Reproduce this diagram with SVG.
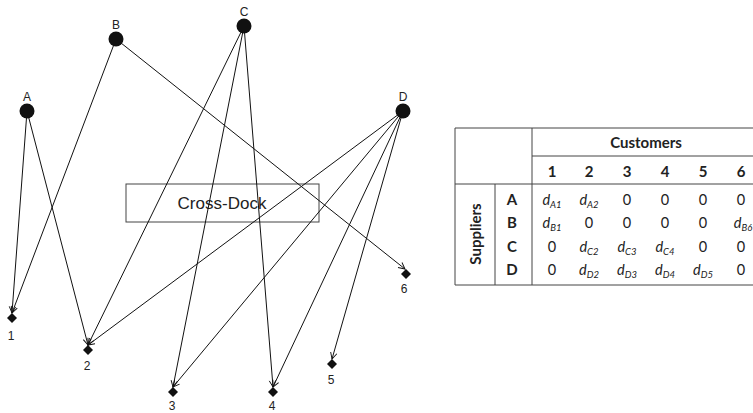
<svg xmlns="http://www.w3.org/2000/svg" width="753" height="413" viewBox="0 0 753 413">
<style>
.lbl{font-family:"Liberation Sans",Arial,sans-serif;font-size:12px;fill:#222;text-anchor:middle}
.edge{stroke:#111;stroke-width:1;fill:none}
.sup{fill:#111}
.cus{fill:#111}
.tl{stroke:#444;stroke-width:1;fill:none}
.th{font-family:Lato,"Open Sans",sans-serif;font-weight:bold;font-size:15px;fill:#222;text-anchor:middle}
.td{font-family:Lato,"Open Sans",sans-serif;font-size:14.5px;fill:#222;text-anchor:middle}
.it{font-style:italic}
.sub{font-style:italic;font-size:9.5px}
</style>
<defs>
<marker id="arr" viewBox="0 0 10 10" refX="9" refY="5" markerWidth="8" markerHeight="8" markerUnits="userSpaceOnUse" orient="auto">
<path d="M1,1 L9,5 L1,9" fill="none" stroke="#111" stroke-width="1.2"/>
</marker>
</defs>
<rect width="753" height="413" fill="#fff"/>

<g id="crossdock">
<rect x="126" y="184" width="193" height="38" fill="none" stroke="#444" stroke-width="1"/>
<text x="222" y="209" font-family="Liberation Sans,Arial,sans-serif" font-size="17" fill="#222" text-anchor="middle">Cross-Dock</text>
</g>

<g id="connectors">
<line class="edge" x1="27" y1="111" x2="12" y2="313" marker-end="url(#arr)"/>
<line class="edge" x1="27" y1="111" x2="88" y2="345" marker-end="url(#arr)"/>
<line class="edge" x1="116" y1="39" x2="12" y2="313" marker-end="url(#arr)"/>
<line class="edge" x1="116" y1="39" x2="405" y2="269" marker-end="url(#arr)"/>
<line class="edge" x1="244" y1="26" x2="88" y2="345" marker-end="url(#arr)"/>
<line class="edge" x1="244" y1="26" x2="173" y2="387" marker-end="url(#arr)"/>
<line class="edge" x1="244" y1="26" x2="273" y2="387" marker-end="url(#arr)"/>
<line class="edge" x1="403" y1="111" x2="88" y2="345" marker-end="url(#arr)"/>
<line class="edge" x1="403" y1="111" x2="173" y2="387" marker-end="url(#arr)"/>
<line class="edge" x1="403" y1="111" x2="273" y2="387" marker-end="url(#arr)"/>
<line class="edge" x1="403" y1="111" x2="332" y2="359" marker-end="url(#arr)"/>
</g>

<g id="A"><circle class="sup" cx="27" cy="111" r="7.5"/><text class="lbl" x="27" y="101">A</text></g>
<g id="B"><circle class="sup" cx="116" cy="39" r="7.5"/><text class="lbl" x="116" y="29">B</text></g>
<g id="C"><circle class="sup" cx="244" cy="26" r="7.5"/><text class="lbl" x="244" y="16">C</text></g>
<g id="D"><circle class="sup" cx="403" cy="111" r="7.5"/><text class="lbl" x="403" y="101">D</text></g>

<g id="c1"><path class="cus" d="M12,313 L17,318 L12,323 L7,318 Z"/><text class="lbl" x="11" y="340">1</text></g>
<g id="c2"><path class="cus" d="M88,345 L93,350 L88,355 L83,350 Z"/><text class="lbl" x="87" y="370">2</text></g>
<g id="c3"><path class="cus" d="M173,387 L178,392 L173,397 L168,392 Z"/><text class="lbl" x="172" y="410">3</text></g>
<g id="c4"><path class="cus" d="M273,387 L278,392 L273,397 L268,392 Z"/><text class="lbl" x="272" y="410">4</text></g>
<g id="c5"><path class="cus" d="M332,359 L337,364 L332,369 L327,364 Z"/><text class="lbl" x="331" y="384">5</text></g>
<g id="c6"><path class="cus" d="M406,269 L411,274 L406,279 L401,274 Z"/><text class="lbl" x="404" y="293">6</text></g>

<g id="table">
<line class="tl" x1="455" y1="128" x2="753" y2="128"/>
<line class="tl" x1="455" y1="128" x2="455" y2="285"/>
<line class="tl" x1="455" y1="285" x2="753" y2="285"/>
<line class="tl" x1="532" y1="128" x2="532" y2="285"/>
<line class="tl" x1="532" y1="156" x2="753" y2="156"/>
<line class="tl" x1="455" y1="184" x2="753" y2="184" stroke-width="1.5"/>
<line class="tl" x1="495" y1="184" x2="495" y2="285" stroke="#888"/>
<text class="th" x="646" y="148">Customers</text>
<text class="th" x="552" y="177">1</text>
<text class="th" x="589" y="177">2</text>
<text class="th" x="627" y="177">3</text>
<text class="th" x="665" y="177">4</text>
<text class="th" x="703" y="177">5</text>
<text class="th" x="741" y="177">6</text>
<text class="th" transform="translate(481,234) rotate(-90)">Suppliers</text>
<text class="th" x="512" y="205">A</text>
<text class="th" x="512" y="228">B</text>
<text class="th" x="512" y="252">C</text>
<text class="th" x="512" y="275">D</text>
<g id="cells">
<text class="td" x="552" y="205"><tspan class="it">d</tspan><tspan class="sub" dy="3">A1</tspan></text>
<text class="td" x="589" y="205"><tspan class="it">d</tspan><tspan class="sub" dy="3">A2</tspan></text>
<text class="td" x="627" y="205">0</text>
<text class="td" x="665" y="205">0</text>
<text class="td" x="703" y="205">0</text>
<text class="td" x="741" y="205">0</text>
<text class="td" x="552" y="228"><tspan class="it">d</tspan><tspan class="sub" dy="3">B1</tspan></text>
<text class="td" x="589" y="228">0</text>
<text class="td" x="627" y="228">0</text>
<text class="td" x="665" y="228">0</text>
<text class="td" x="703" y="228">0</text>
<text class="td" x="743" y="228"><tspan class="it">d</tspan><tspan class="sub" dy="3">B6</tspan></text>
<text class="td" x="552" y="252">0</text>
<text class="td" x="589" y="252"><tspan class="it">d</tspan><tspan class="sub" dy="3">C2</tspan></text>
<text class="td" x="627" y="252"><tspan class="it">d</tspan><tspan class="sub" dy="3">C3</tspan></text>
<text class="td" x="665" y="252"><tspan class="it">d</tspan><tspan class="sub" dy="3">C4</tspan></text>
<text class="td" x="703" y="252">0</text>
<text class="td" x="741" y="252">0</text>
<text class="td" x="552" y="275">0</text>
<text class="td" x="589" y="275"><tspan class="it">d</tspan><tspan class="sub" dy="3">D2</tspan></text>
<text class="td" x="627" y="275"><tspan class="it">d</tspan><tspan class="sub" dy="3">D3</tspan></text>
<text class="td" x="665" y="275"><tspan class="it">d</tspan><tspan class="sub" dy="3">D4</tspan></text>
<text class="td" x="703" y="275"><tspan class="it">d</tspan><tspan class="sub" dy="3">D5</tspan></text>
<text class="td" x="741" y="275">0</text>
</g>
</g>
</svg>
